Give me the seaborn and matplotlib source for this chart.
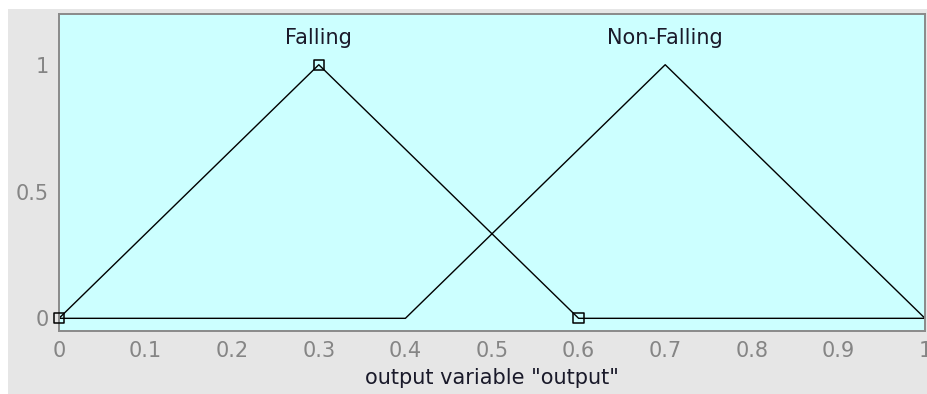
import matplotlib

matplotlib.use("Agg")
import matplotlib.pyplot as plt
import pandas as pd
import seaborn as sns
from matplotlib.patches import Rectangle

# membership functions of output variable "output"
falling_x = [0.0, 0.3, 0.6, 1.0]
falling_y = [0.0, 1.0, 0.0, 0.0]
nonfalling_x = [0.0, 0.4, 0.7, 1.0]
nonfalling_y = [0.0, 0.0, 1.0, 0.0]
mf_names = ["Falling", "Non-Falling"]
mf_peaks = [0.3, 0.7]

# vertices of the selected MF (Falling)
sel_x = [0.0, 0.3, 0.6]
sel_y = [0.0, 1.0, 0.0]

x_ticks = [0, 0.1, 0.2, 0.3, 0.4, 0.5, 0.6, 0.7, 0.8, 0.9, 1]
x_tick_labels = ["0", "0.1", "0.2", "0.3", "0.4", "0.5", "0.6", "0.7", "0.8", "0.9", "1"]
y_ticks = [0, 0.5, 1]
y_tick_labels = ["0", "0.5", "1"]

sns.set_style("white")
plt.rcParams["font.family"] = ["DejaVu Sans"]

df = pd.concat([
    pd.DataFrame({"x": falling_x, "mu": falling_y, "mf": mf_names[0]}),
    pd.DataFrame({"x": nonfalling_x, "mu": nonfalling_y, "mf": mf_names[1]}),
])
sel = pd.DataFrame({"x": sel_x, "mu": sel_y})

fig = plt.figure(figsize=(9.27, 3.94), dpi=100, facecolor="white")
# grey window background, with the thin white strip top/left
fig.patches.append(Rectangle((8 / 927, 0), 1, 1 - 9 / 394, transform=fig.transFigure,
                             facecolor="#e6e6e6", edgecolor="none", zorder=-10))
ax = fig.add_axes([59 / 927, 63 / 394, 866 / 927, 317 / 394])
ax.set_facecolor("#ccffff")

sns.lineplot(data=df, x="x", y="mu", hue="mf", units="mf", estimator=None, sort=False,
             palette=["black", "black"], linewidth=1.0, legend=False, ax=ax)
sns.scatterplot(data=sel, x="x", y="mu", marker="s", s=55, facecolors="none",
                edgecolors="black", linewidth=1.1, zorder=5, clip_on=False, ax=ax)

for name, peak in zip(mf_names, mf_peaks):
    ax.text(peak, 1.08, name, ha="center", va="baseline", fontsize=15, color="#1a1a2a")

ax.set_xlim(0, 1)
ax.set_ylim(-0.05, 1.2)
ax.set_xticks(x_ticks)
ax.set_xticklabels(x_tick_labels)
ax.set_yticks(y_ticks)
ax.set_yticklabels(y_tick_labels)
ax.tick_params(direction="in", length=3, width=1, color="#888888", labelcolor="#858585",
               labelsize=15)
ax.tick_params(axis="x", pad=7)
ax.tick_params(axis="y", pad=7.5)
ax.set_xlabel('output variable "output"', fontsize=15, color="#1a1a2a", labelpad=5)
ax.set_ylabel("")
for sp in ax.spines.values():
    sp.set_color("#8a8a8a")
    sp.set_linewidth(1.4)

fig.savefig("out.png", dpi=100, facecolor=fig.get_facecolor())
